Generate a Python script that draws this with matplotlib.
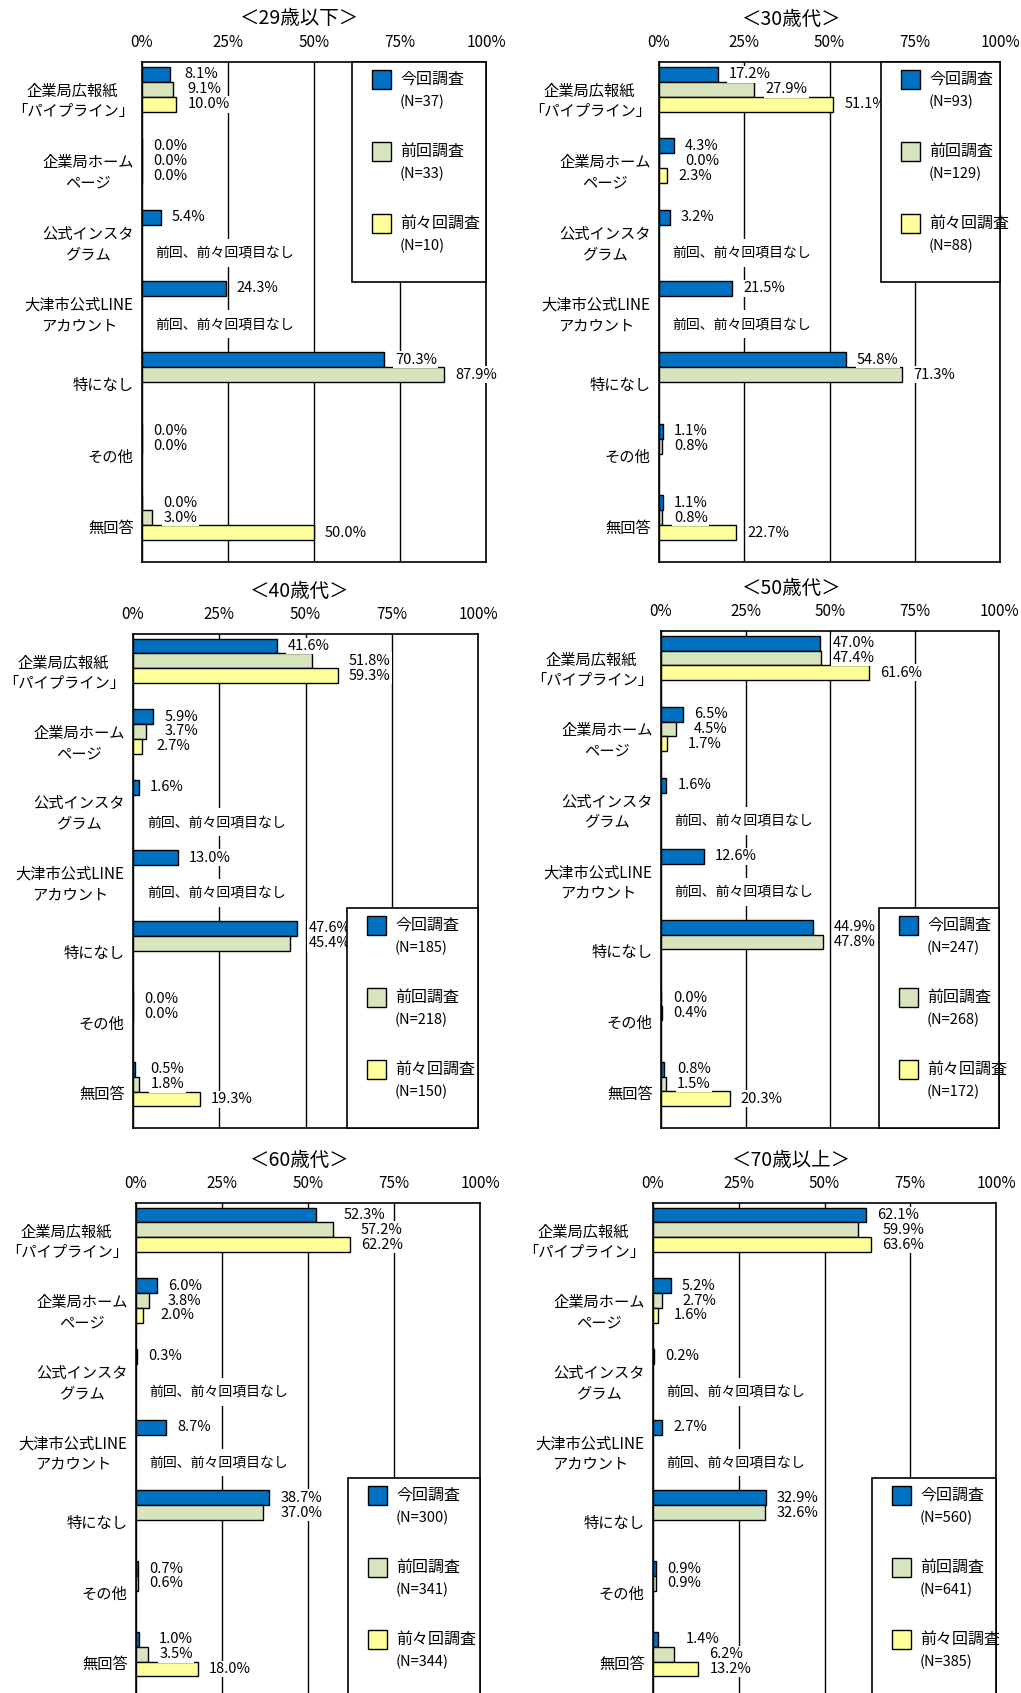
import numpy as np
import matplotlib
matplotlib.use('Agg')
import matplotlib.pyplot as plt
from matplotlib.patches import Rectangle

plt.rcParams['font.family'] = ['Noto Sans CJK JP', 'DejaVu Sans']

categories = ['企業局広報紙\n「パイプライン」', '企業局ホーム\nページ', '公式インスタ\nグラム',
              '大津市公式LINE\nアカウント', '特になし', 'その他', '無回答']
titles = ['＜29歳以下＞', '＜30歳代＞', '＜40歳代＞', '＜50歳代＞', '＜60歳代＞', '＜70歳以上＞']
series_names = ['今回調査', '前回調査', '前々回調査']
no_item_note = '前回、前々回項目なし'
no_item_rows = [2, 3]
xticks = [0, 25, 50, 75, 100]
xtick_labels = ['0%', '25%', '50%', '75%', '100%']

nan = np.nan
cur = [
    [8.1, 0.0, 5.4, 24.3, 70.3, 0.0, 0.0],
    [17.2, 4.3, 3.2, 21.5, 54.8, 1.1, 1.1],
    [41.6, 5.9, 1.6, 13.0, 47.6, 0.0, 0.5],
    [47.0, 6.5, 1.6, 12.6, 44.9, 0.0, 0.8],
    [52.3, 6.0, 0.3, 8.7, 38.7, 0.7, 1.0],
    [62.1, 5.2, 0.2, 2.7, 32.9, 0.9, 1.4],
]
prev = [
    [9.1, 0.0, nan, nan, 87.9, 0.0, 3.0],
    [27.9, 0.0, nan, nan, 71.3, 0.8, 0.8],
    [51.8, 3.7, nan, nan, 45.4, 0.0, 1.8],
    [47.4, 4.5, nan, nan, 47.8, 0.4, 1.5],
    [57.2, 3.8, nan, nan, 37.0, 0.6, 3.5],
    [59.9, 2.7, nan, nan, 32.6, 0.9, 6.2],
]
prev2 = [
    [10.0, 0.0, nan, nan, nan, nan, 50.0],
    [51.1, 2.3, nan, nan, nan, nan, 22.7],
    [59.3, 2.7, nan, nan, nan, nan, 19.3],
    [61.6, 1.7, nan, nan, nan, nan, 20.3],
    [62.2, 2.0, nan, nan, nan, nan, 18.0],
    [63.6, 1.6, nan, nan, nan, nan, 13.2],
]
n_cur = [37, 93, 185, 247, 300, 560]
n_prev = [33, 129, 218, 268, 341, 641]
n_prev2 = [10, 88, 150, 172, 344, 385]

# layout in pixels: left, top, right, bottom of each plot area
W, H = 1021, 1693
boxes = [(142, 62, 486, 562), (659, 62, 1000, 562),
         (133, 634, 478, 1128), (661, 631, 999, 1128),
         (136, 1203, 480, 1698), (653, 1203, 996, 1698)]
legend_left = [352, 881, 347, 879, 348, 872]
title_x = [300, 792]

colors = ['#0070C0', '#D7E4BD', '#FFFF99']
bar_h = 0.21
offsets = np.array([-0.33, -0.12, 0.09])
y = np.arange(len(categories))
ns = [n_cur, n_prev, n_prev2]

fig = plt.figure(figsize=(W / 100, H / 100), dpi=100)

for k in range(6):
    l, t, r, b = boxes[k]
    ax_w, ax_h = r - l, b - t
    ax = fig.add_axes([l / W, 1 - b / H, ax_w / W, ax_h / H])
    vals = [np.array(cur[k]), np.array(prev[k]), np.array(prev2[k])]

    for j in range(3):
        m = ~np.isnan(vals[j])
        ax.barh(y[m] + offsets[j], vals[j][m], height=bar_h, color=colors[j],
                edgecolor='black', linewidth=1.0, zorder=3)

    # data labels
    for j in range(3):
        for i in range(len(categories)):
            v = vals[j][i]
            if np.isnan(v):
                continue
            anchor = v
            for jj in (j - 1, j + 1):
                if 0 <= jj < 3:
                    w = vals[jj][i]
                    if not np.isnan(w) and v < w < v + 8:
                        anchor = max(anchor, w)
            ax.annotate(f'{v:.1f}%', (anchor, i + offsets[j]), xytext=(8, 0),
                        textcoords='offset points', va='center', ha='left',
                        fontsize=10.5, zorder=4,
                        bbox=dict(fc='white', ec='none', pad=1))

    for i in no_item_rows:
        ax.text(4, i + 0.17, no_item_note, fontsize=10, va='center', ha='left',
                zorder=4, bbox=dict(fc='white', ec='none', pad=5))

    ax.set_xlim(0, 100)
    ax.set_ylim(len(categories) - 0.5, -0.5)
    ax.set_xticks(xticks)
    ax.set_xticklabels(xtick_labels)
    ax.xaxis.tick_top()
    ax.tick_params(axis='x', length=0, pad=8, labelsize=11)
    ax.set_yticks(y)
    ax.set_yticklabels(categories)
    ax.tick_params(axis='y', length=0, pad=6, labelsize=11)
    for lab in ax.get_yticklabels():
        lab.set_multialignment('center')
        lab.set_linespacing(1.25)
    ax.grid(axis='x', color='black', linewidth=1.0)
    ax.set_axisbelow(True)
    for s in ax.spines.values():
        s.set_linewidth(1.2)
        s.set_color('black')

    # legend box
    lx0 = (legend_left[k] - l) / ax_w
    lh = 220 / ax_h
    ly0 = 1 - lh if k < 2 else 0.0
    ax.add_patch(Rectangle((lx0, ly0), 1 - lx0, lh, transform=ax.transAxes,
                           fc='white', ec='black', lw=1.2, zorder=5, clip_on=False))
    for j in range(3):
        top = ly0 + lh - (8 + 72 * j) / ax_h
        ax.add_patch(Rectangle((lx0 + 20 / ax_w, top - 19 / ax_h), 19 / ax_w, 19 / ax_h,
                               transform=ax.transAxes, fc=colors[j], ec='black',
                               lw=1.0, zorder=6, clip_on=False))
        ax.text(lx0 + 48 / ax_w, top - 9.5 / ax_h, series_names[j], transform=ax.transAxes,
                va='center', ha='left', fontsize=11.5, zorder=6)
        ax.text(lx0 + 48 / ax_w, top - 32 / ax_h, f'(N={ns[j][k]})', transform=ax.transAxes,
                va='center', ha='left', fontsize=10.5, zorder=6)

    fig.text(title_x[k % 2] / W, 1 - (t - 43) / H, titles[k], ha='center', va='center',
             fontsize=14)

fig.savefig('out.png', dpi=100)
